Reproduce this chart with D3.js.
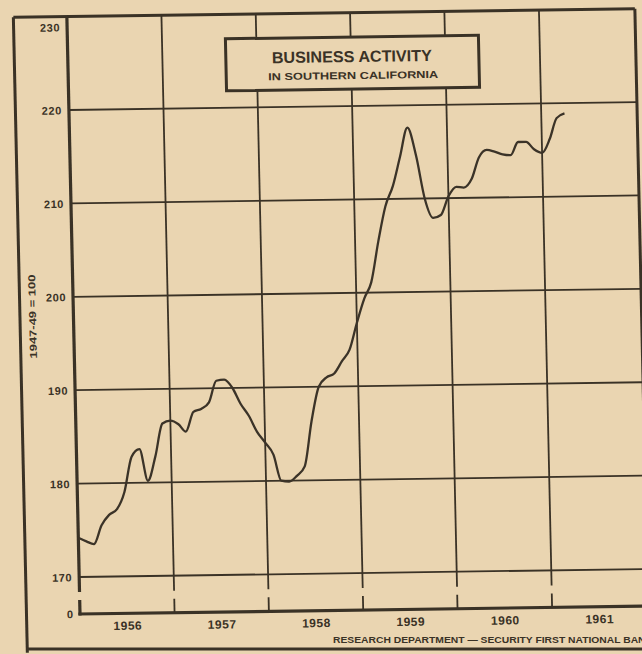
<!DOCTYPE html>
<html>
<head>
<meta charset="utf-8">
<script src="https://cdn.jsdelivr.net/npm/d3@7"></script>
<style>
  body { margin: 0; background: #ead5b1; }
  svg { display: block; }
  text { font-family: "Liberation Sans Narrow", "Liberation Sans", Arial, sans-serif; fill: #3a3226; }
</style>
</head>
<body>
<div id="container"></div>
<script>

	// monthly index values (1947-49 = 100)
	var index1956 = [174.2, 173.8, 173.5, 175.5, 176.6, 177.2, 179.0, 182.8, 183.6, 180.2, 182.8, 186.3]
	var index1957 = [186.6, 186.2, 185.4, 187.5, 187.8, 188.5, 190.8, 190.9, 190.0, 188.3, 187.0, 185.3]
	var index1958 = [184.1, 182.8, 180.0, 179.9, 180.5, 181.5, 186.3, 190.0, 191.0, 191.4, 192.7, 193.9]
	var index1959 = [196.8, 199.4, 201.1, 205.5, 209.2, 211.4, 214.5, 217.6, 214.6, 210.0, 207.9, 208.2]
	var index1960 = [210.2, 211.2, 211.1, 212.0, 214.3, 215.1, 214.9, 214.6, 214.5, 215.9, 215.9, 215.1]
	var index1961 = [214.7, 216.2, 218.4, 218.9]

	var years = [1956, 1957, 1958, 1959, 1960, 1961]
	var yTicks = [170, 180, 190, 200, 210, 220, 230]
	var title = "BUSINESS ACTIVITY"
	var subtitle = "IN SOUTHERN CALIFORNIA"
	var yTitle = "1947-49 = 100"
	var footer = "RESEARCH DEPARTMENT \u2014 SECURITY FIRST NATIONAL BANK"

	// define dimensions
	var width = 642
	var height = 654
	var ink = "#3a3226"

	// build one series from the yearly arrays
	var byYear = [index1956, index1957, index1958, index1959, index1960, index1961]
	var series = []
	byYear.forEach(function(vals, i) {
		vals.forEach(function(v, m) {
			series.push({ date: new Date(years[i], m, 1), value: v })
		})
	})

	var svg = d3.select("#container")
		.append("svg")
		.attr("width", width)
		.attr("height", height)

	svg.append("rect")
		.attr("width", width)
		.attr("height", height)
		.attr("fill", "#ead5b1")

	// the scan is a little skewed, so the chart is drawn straight and then sheared
	var g = svg.append("g")
		.attr("transform", "matrix(1,-0.014,0.022,1," + (-0.022 * 614) + "," + (0.014 * 80) + ")")

	var x = d3.scaleTime()
		.domain([new Date(1956, 0, 1), new Date(1962, 0, 1)])
		.range([80, 646.4])

	var y = d3.scaleLinear()
		.domain([170, 230])
		.range([577, 16.6])

	var zeroY = 614
	var gapTop = 592, gapBottom = 600
	var frameLeft = 26.5, frameRight = 648

	// horizontal grid lines
	g.selectAll(".hgrid")
		.data(yTicks.slice(0, -1))
		.enter()
		.append("line")
		.attr("class", "hgrid")
		.attr("x1", 80)
		.attr("x2", frameRight)
		.attr("y1", function(d) { return y(d) })
		.attr("y2", function(d) { return y(d) })
		.attr("stroke", ink)
		.attr("stroke-width", 1.8)

	// vertical grid lines at year boundaries, broken like the axis
	var bounds = years.slice(1).map(function(yr) { return new Date(yr, 0, 1) })
	;[[y(230), gapTop], [gapBottom, zeroY]].forEach(function(seg) {
		g.selectAll(null)
			.data(bounds)
			.enter()
			.append("line")
			.attr("x1", function(d) { return x(d) })
			.attr("x2", function(d) { return x(d) })
			.attr("y1", seg[0])
			.attr("y2", seg[1])
			.attr("stroke", ink)
			.attr("stroke-width", 1.8)
	})

	// title box covers the grid
	g.append("rect")
		.attr("x", 238)
		.attr("y", 41)
		.attr("width", 253)
		.attr("height", 52)
		.attr("fill", "#ead5b1")
		.attr("stroke", ink)
		.attr("stroke-width", 3)

	g.append("text")
		.attr("x", 364)
		.attr("y", 66)
		.attr("text-anchor", "middle")
		.attr("font-size", 16)
		.attr("font-weight", "bold")
		.attr("textLength", 160)
		.attr("lengthAdjust", "spacingAndGlyphs")
		.text(title)

	g.append("text")
		.attr("x", 365)
		.attr("y", 83)
		.attr("text-anchor", "middle")
		.attr("font-size", 10)
		.attr("font-weight", "bold")
		.attr("textLength", 170)
		.attr("lengthAdjust", "spacingAndGlyphs")
		.text(subtitle)

	// frame around the chart (bottom edge is drawn unsheared below)
	g.append("line")
		.attr("x1", frameLeft).attr("x2", frameRight)
		.attr("y1", y(230)).attr("y2", y(230))
		.attr("stroke", ink).attr("stroke-width", 3)
	g.append("line")
		.attr("x1", frameLeft).attr("x2", frameLeft)
		.attr("y1", y(230)).attr("y2", 652)
		.attr("stroke", ink).attr("stroke-width", 3)
	g.append("line")
		.attr("x1", frameRight).attr("x2", frameRight)
		.attr("y1", y(230)).attr("y2", 652)
		.attr("stroke", ink).attr("stroke-width", 3)

	// left axis with its break, and the base line
	g.append("line")
		.attr("x1", 80).attr("x2", 80)
		.attr("y1", y(230)).attr("y2", gapTop)
		.attr("stroke", ink).attr("stroke-width", 3.2)
	g.append("line")
		.attr("x1", 80).attr("x2", 80)
		.attr("y1", gapBottom).attr("y2", zeroY + 1.5)
		.attr("stroke", ink).attr("stroke-width", 3.2)
	g.append("line")
		.attr("x1", 78.4).attr("x2", frameRight)
		.attr("y1", zeroY).attr("y2", zeroY)
		.attr("stroke", ink).attr("stroke-width", 3.2)

	// y tick labels
	var yAxis = g.append("g")
		.attr("transform", "translate(80,0)")
		.call(d3.axisLeft(y).tickValues(yTicks).tickSize(0).tickPadding(7))
	yAxis.select(".domain").remove()
	yAxis.selectAll("text")
		.attr("font-size", 11)
		.attr("font-weight", "bold")
		.attr("letter-spacing", 0.6)
		.attr("fill", ink)
		.attr("font-family", null)
		.attr("dy", function(d) { return d == 230 ? "1.3em" : "0.35em" })

	g.append("text")
		.attr("x", 73)
		.attr("y", zeroY + 4)
		.attr("text-anchor", "end")
		.attr("font-size", 11)
		.attr("font-weight", "bold")
		.text("0")

	g.append("text")
		.attr("transform", "translate(39,316) rotate(-90)")
		.attr("text-anchor", "middle")
		.attr("dy", "0.35em")
		.attr("font-size", 10)
		.attr("font-weight", "bold")
		.attr("textLength", 84)
		.attr("lengthAdjust", "spacingAndGlyphs")
		.text(yTitle)

	// year labels centred in each year
	var xAxis = g.append("g")
		.attr("transform", "translate(0," + zeroY + ")")
		.call(d3.axisBottom(x)
			.tickValues(years.map(function(yr) { return new Date(yr, 6, 1) }))
			.tickFormat(d3.timeFormat("%Y"))
			.tickSize(0)
			.tickPadding(8))
	xAxis.select(".domain").remove()
	xAxis.selectAll("text")
		.attr("font-size", 12)
		.attr("font-weight", "bold")
		.attr("letter-spacing", 0.5)
		.attr("fill", ink)
		.attr("font-family", null)

	// the index line
	var line = d3.line()
		.x(function(d) { return x(d.date) })
		.y(function(d) { return y(d.value) })
		.curve(d3.curveMonotoneX)

	g.append("path")
		.datum(series)
		.attr("d", line)
		.attr("fill", "none")
		.attr("stroke", "#3b3328")
		.attr("stroke-width", 2.3)
		.attr("stroke-linejoin", "round")

	// bottom edge and source line
	svg.append("line")
		.attr("x1", 27).attr("x2", width)
		.attr("y1", 649).attr("y2", 649)
		.attr("stroke", ink).attr("stroke-width", 3.2)

	svg.append("text")
		.attr("x", 333)
		.attr("y", 642.5)
		.attr("font-size", 9)
		.attr("font-weight", "bold")
		.attr("textLength", 320)
		.attr("lengthAdjust", "spacingAndGlyphs")
		.text(footer)

</script>
</body>
</html>
